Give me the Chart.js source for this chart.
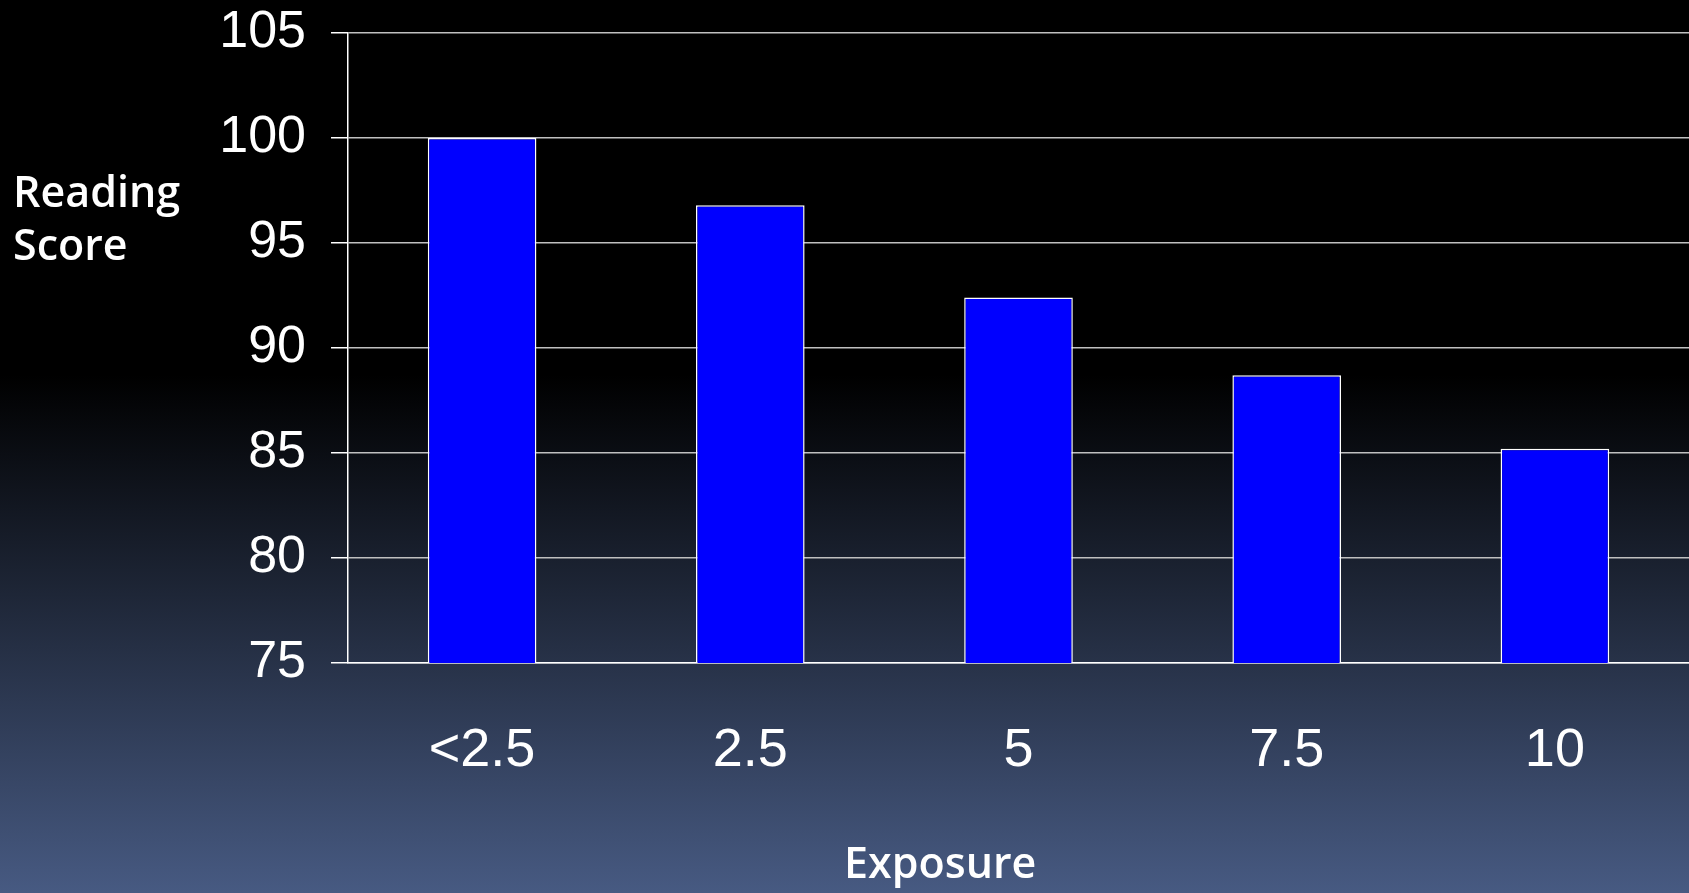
<!DOCTYPE html>
<html lang="en">
  <head>
    <meta charset="UTF-8" />
    <title>Reading Score by Exposure</title>
    <style>
      * {
        box-sizing: border-box;
        margin: 0;
        padding: 0;
      }
      html,
      body {
        width: 100%;
        height: 100%;
        overflow: hidden;
      }
      body {
        background: linear-gradient(to bottom, #000000 0%, #000000 42%, #475a82 100%);
        position: relative;
      }
      .chart__container {
        position: absolute;
        top: 0;
        left: 0;
        width: 1689px;
        height: 893px;
      }
      .axis-title {
        position: absolute;
        color: #ffffff;
        font-family: "Open Sans", sans-serif;
        font-weight: 600;
        font-size: 43px;
        line-height: 53px;
      }
      .axis-title--y {
        left: 13px;
        top: 164px;
      }
      .axis-title--x {
        left: 844px;
        top: 835px;
      }
    </style>
  </head>
  <body>
    <div class="chart__container">
      <canvas id="scoreChart"></canvas>
    </div>
    <p class="axis-title axis-title--y">Reading<br />Score</p>
    <p class="axis-title axis-title--x">Exposure</p>

    <script src="https://cdn.jsdelivr.net/npm/chart.js"></script>
    <script>
      const exposureLabels = ["<2.5", "2.5", "5", "7.5", "10"];
      const readingScores = [100, 96.8, 92.4, 88.7, 85.2];
      const yMin = 75;
      const yMax = 105;
      const yStep = 5;

      const ctx = document.getElementById("scoreChart").getContext("2d");

      const scoreChart = new Chart(ctx, {
        type: "bar",
        data: {
          labels: exposureLabels,
          datasets: [
            {
              label: "Reading Score",
              data: readingScores,
              backgroundColor: "#0000ff",
              borderColor: "#ffffff",
              borderWidth: 1.5,
              categoryPercentage: 1,
              barPercentage: 0.405,
            },
          ],
        },
        options: {
          responsive: true,
          maintainAspectRatio: false,
          animation: false,
          layout: {
            // plot runs a few px past the right edge in the original
            padding: { top: 33, right: -5, bottom: 0, left: 0 },
          },
          plugins: {
            legend: { display: false },
            tooltip: { enabled: false },
          },
          scales: {
            x: {
              grid: { display: false },
              border: { display: true, color: "#ffffff", width: 1.5 },
              ticks: {
                color: "#ffffff",
                padding: 48,
                font: { family: "'Liberation Sans', Arial, sans-serif", size: 54 },
              },
              afterFit: function (scale) {
                scale.height = 230; // leaves room for the Exposure title
              },
            },
            y: {
              min: yMin,
              max: yMax,
              grid: {
                color: "#c0c0c0",
                lineWidth: 1.5,
                tickLength: 17,
                tickColor: "#ffffff",
              },
              border: { display: true, color: "#ffffff", width: 1.5 },
              ticks: {
                stepSize: yStep,
                color: "#ffffff",
                padding: 25,
                font: { family: "'Liberation Sans', Arial, sans-serif", size: 52 },
              },
              afterFit: function (scale) {
                scale.width = 348;
                // top label may hang above the plot, like the original
                scale.paddingTop = 0;
                scale.paddingBottom = 0;
              },
            },
          },
        },
      });
    </script>
  </body>
</html>
